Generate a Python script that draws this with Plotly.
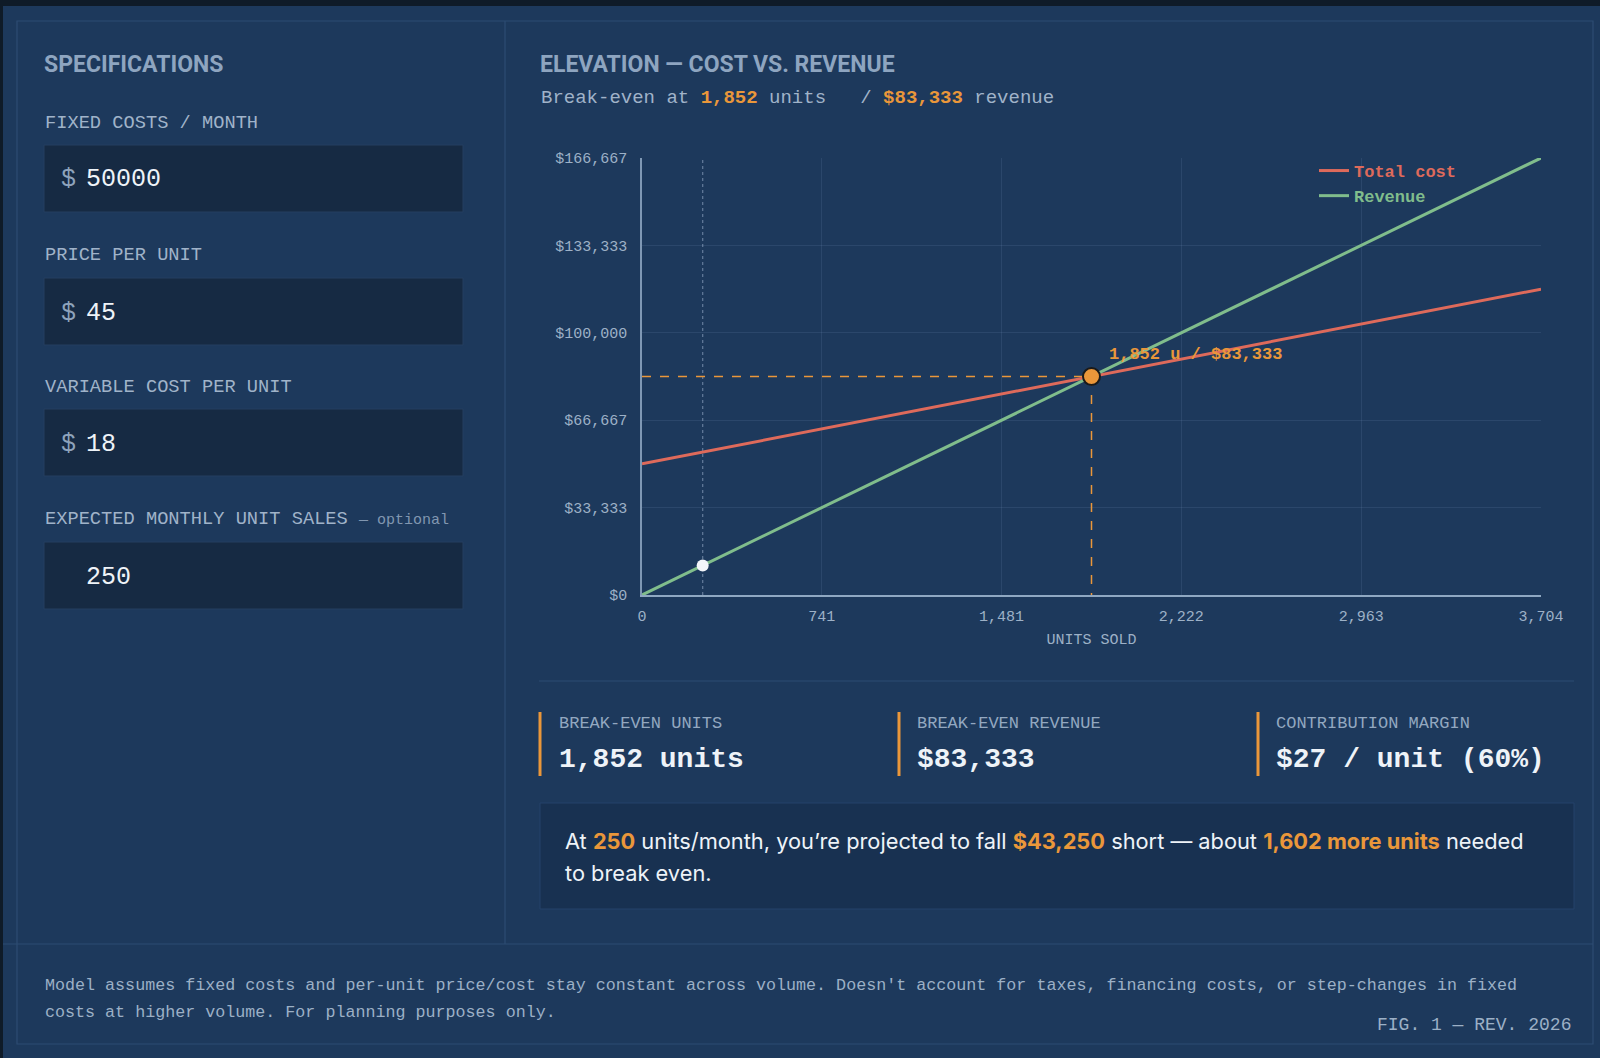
import plotly.graph_objects as go

W, H = 1600, 1058

# ---------------- data ----------------
fixed_cost = 50000
price_per_unit = 45
variable_cost = 18
expected_sales = 250

units_ends = [0, 3704]
total_cost_vals = [50000, 116667]
revenue_vals = [0, 166667]

be_units = 1852
be_revenue = 83333
current_units = 250
current_revenue = 11250

x_tick_vals = [0, 741, 1481, 2222, 2963, 3704]
x_tick_text = ["0", "741", "1,481", "2,222", "2,963", "3,704"]
y_tick_vals = [0, 33333, 66667, 100000, 133333, 166667]
y_tick_text = ["$0", "$33,333", "$66,667", "$100,000", "$133,333", "$166,667"]

stat_labels = ["BREAK-EVEN UNITS", "BREAK-EVEN REVENUE", "CONTRIBUTION MARGIN"]
stat_values = ["1,852 units", "$83,333", "$27 / unit (60%)"]

input_labels = ["FIXED COSTS / MONTH", "PRICE PER UNIT", "VARIABLE COST PER UNIT",
                "EXPECTED MONTHLY UNIT SALES"]
input_values = ["50000", "45", "18", "250"]
input_prefix = ["$", "$", "$", ""]

# ---------------- colours / fonts ----------------
DARK = "#0f1b28"
PANEL = "#1d395c"
FRAME = "#2d4c72"
BOX = "#162a43"
BOX_LINE = "#243f60"
CALLOUT = "#183151"
TITLE = "#8ea5c0"
LABEL = "#a0b3c9"
STATLAB = "#93a8c0"
TICK = "#9db1c7"
WHITE = "#eef3f8"
ORANGE = "#ea973a"
RED = "#de6a5b"
GREEN = "#80bd8c"

MONO = "Liberation Mono, DejaVu Sans Mono, monospace"
SANS_B = "Roboto, Inter, sans-serif"
SANS = "Inter, Lato, sans-serif"


def fx(p):
    return p / W


def fy(p):
    return 1 - p / H


fig = go.Figure()

# ---------------- traces ----------------
fig.add_trace(go.Scatter(
    x=[current_units, current_units], y=[0, revenue_vals[1]], mode="lines",
    line=dict(color="rgba(150,172,198,0.55)", width=1.3, dash="dot"),
    showlegend=False, hoverinfo="skip"))
fig.add_trace(go.Scatter(
    x=[0, be_units, be_units], y=[be_revenue, be_revenue, 0], mode="lines",
    line=dict(color=ORANGE, width=1.5, dash="dash"),
    showlegend=False, hoverinfo="skip"))
fig.add_trace(go.Scatter(
    x=units_ends, y=total_cost_vals, mode="lines",
    name=f"<b><span style='color:{RED}'>Total cost</span></b>",
    line=dict(color=RED, width=3)))
fig.add_trace(go.Scatter(
    x=units_ends, y=revenue_vals, mode="lines",
    name=f"<b><span style='color:{GREEN}'>Revenue</span></b>",
    line=dict(color=GREEN, width=3)))
fig.add_trace(go.Scatter(
    x=[current_units], y=[current_revenue], mode="markers",
    marker=dict(color="#f2f5f9", size=12), showlegend=False))
fig.add_trace(go.Scatter(
    x=[be_units], y=[be_revenue], mode="markers",
    marker=dict(color=ORANGE, size=17, line=dict(color="#1a1a1a", width=2)),
    showlegend=False))

# ---------------- shapes ----------------
shapes = []
shapes.append(dict(type="rect", xref="paper", yref="paper", x0=fx(3), x1=fx(W), y0=fy(H), y1=fy(6),
                   fillcolor=PANEL, line=dict(width=0), layer="below"))
shapes.append(dict(type="rect", xref="paper", yref="paper", x0=fx(17), x1=fx(1593), y0=fy(1044), y1=fy(21),
                   fillcolor="rgba(0,0,0,0)", line=dict(color=FRAME, width=1.2), layer="below"))
shapes.append(dict(type="line", xref="paper", yref="paper", x0=fx(505), x1=fx(505), y0=fy(944), y1=fy(21),
                   line=dict(color=FRAME, width=1.2), layer="below"))
shapes.append(dict(type="line", xref="paper", yref="paper", x0=fx(3), x1=fx(1593), y0=fy(944), y1=fy(944),
                   line=dict(color=FRAME, width=1.2), layer="below"))
shapes.append(dict(type="line", xref="paper", yref="paper", x0=fx(539), x1=fx(1574), y0=fy(681), y1=fy(681),
                   line=dict(color=FRAME, width=1.2), layer="below"))
box_tops = [145, 278, 409, 542]
for t in box_tops:
    shapes.append(dict(type="rect", xref="paper", yref="paper", x0=fx(44), x1=fx(463), y0=fy(t + 67), y1=fy(t),
                       fillcolor=BOX, line=dict(color=BOX_LINE, width=1), layer="below"))
shapes.append(dict(type="rect", xref="paper", yref="paper", x0=fx(540), x1=fx(1574), y0=fy(909), y1=fy(803),
                   fillcolor=CALLOUT, line=dict(color="#24426a", width=1), layer="below"))
for bx in [540, 899, 1258]:
    shapes.append(dict(type="line", xref="paper", yref="paper", x0=fx(bx), x1=fx(bx), y0=fy(776), y1=fy(712),
                       line=dict(color=ORANGE, width=3), layer="below"))

# ---------------- annotations ----------------
ann = []


def txt(x, y, s, size, color, family=MONO, xanchor="left"):
    ann.append(dict(xref="paper", yref="paper", x=fx(x), y=fy(y), text=s, showarrow=False,
                    xanchor=xanchor, yanchor="middle", font=dict(size=size, color=color, family=family)))


txt(42, 64, "<b>SPECIFICATIONS</b>", 23, TITLE, SANS_B)
label_ys = [123, 255, 387, 519]
for i, lab in enumerate(input_labels):
    if i == 3:
        lab = lab + " <span style='font-size:15px;color:#8197b1'>— optional</span>"
    txt(43, label_ys[i], lab, 18.7, LABEL)
for i, t in enumerate(box_tops):
    if input_prefix[i]:
        txt(59, t + 35, input_prefix[i], 25, "#8ea3bb")
    txt(84, t + 35, input_values[i], 25, WHITE)

txt(538, 64, "<b>ELEVATION — COST VS. REVENUE</b>", 23, TITLE, SANS_B)
txt(539, 98,
    f"Break-even at <b><span style='color:{ORANGE}'>1,852</span></b> units\u00a0\u00a0\u00a0/ "
    f"<b><span style='color:{ORANGE}'>$83,333</span></b> revenue", 19, LABEL)

for i, (lab, val) in enumerate(zip(stat_labels, stat_values)):
    x0 = [557, 915, 1274][i]
    txt(x0, 723, lab, 17, STATLAB)
    txt(x0, 759, f"<b>{val}</b>", 28, WHITE)

txt(563, 841,
    f"At <b><span style='color:{ORANGE}'>250</span></b> units/month, you’re projected to fall "
    f"<b><span style='color:{ORANGE}'>$43,250</span></b> short — about "
    f"<b><span style='color:{ORANGE}'>1,602 more units</span></b> needed", 21.8, WHITE, SANS)
txt(563, 873, "to break even.", 21.8, WHITE, SANS)

txt(43, 985, "Model assumes fixed costs and per-unit price/cost stay constant across volume. "
             "Doesn't account for taxes, financing costs, or step-changes in fixed", 16.7, "#9cb0c6")
txt(43, 1012, "costs at higher volume. For planning purposes only.", 16.7, "#9cb0c6")
txt(1573, 1025, "FIG. 1 — REV. 2026", 18, "#9cb0c6", xanchor="right")

ann.append(dict(xref="x", yref="y", x=be_units, y=be_revenue, text="<b>1,852 u / $83,333</b>",
                showarrow=False, xanchor="left", yanchor="middle", xshift=15, yshift=22,
                font=dict(size=17, color=ORANGE, family=MONO)))

fig.update_layout(
    width=W, height=H, margin=dict(l=0, r=0, t=0, b=0, pad=0, autoexpand=False),
    paper_bgcolor=DARK, plot_bgcolor="rgba(0,0,0,0)",
    shapes=shapes, annotations=ann,
    showlegend=True,
    legend=dict(x=fx(1314), y=fy(153), xanchor="left", yanchor="top",
                bgcolor="rgba(0,0,0,0)", font=dict(family=MONO, size=17),
                tracegroupgap=0, itemwidth=30),
    xaxis=dict(domain=[fx(642), fx(1541)], range=[0, 3704], tickvals=x_tick_vals, ticktext=x_tick_text,
               showgrid=True, gridcolor="rgba(140,170,205,0.13)", gridwidth=1, zeroline=False,
               showline=True, linecolor="#8fa8c2", linewidth=2, ticks="", ticklabelstandoff=6,
               tickfont=dict(family=MONO, size=15, color=TICK),
               title=dict(text="UNITS SOLD", font=dict(family=MONO, size=15, color=TICK), standoff=8),
               fixedrange=True, automargin=False),
    yaxis=dict(domain=[fy(595), fy(158)], range=[0, 166667], tickvals=y_tick_vals, ticktext=y_tick_text,
               showgrid=True, gridcolor="rgba(140,170,205,0.13)", gridwidth=1, zeroline=False,
               showline=True, linecolor="#7f98b4", linewidth=1.5, ticks="", ticklabelstandoff=10,
               tickfont=dict(family=MONO, size=15, color=TICK), fixedrange=True, automargin=False),
    hovermode=False,
)

fig.write_html("out.html", config={"displayModeBar": False},
               post_script="document.body.style.margin='0';document.documentElement.style.overflow='hidden';")
